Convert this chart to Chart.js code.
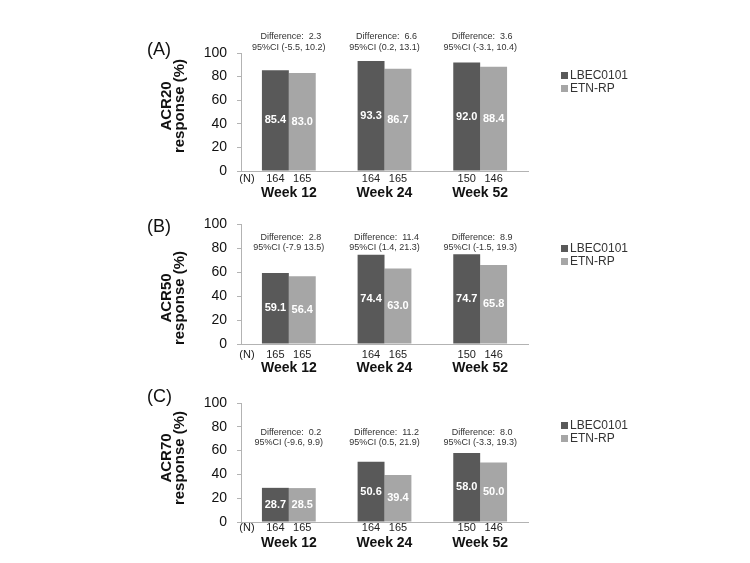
<!DOCTYPE html>
<html>
<head>
<meta charset="utf-8">
<script src="https://cdn.jsdelivr.net/npm/chart.js@4"></script>
<style>
  body { margin: 0; background: #fff; }
  #wrap { position: relative; width: 750px; height: 563px; }
  #wrap canvas { position: absolute; left: 0; top: 0; }
</style>
</head>
<body>
<div id="wrap">
  <canvas id="chartA" width="750" height="563"></canvas>
  <canvas id="chartB" width="750" height="563"></canvas>
  <canvas id="chartC" width="750" height="563"></canvas>
</div>
<script>
const weeks = ["Week 12", "Week 24", "Week 52"];
const seriesNames = ["LBEC0101", "ETN-RP"];

const acr20Lbec = [85.4, 93.3, 92.0];
const acr20Etn = [83.0, 86.7, 88.4];
const acr50Lbec = [59.1, 74.4, 74.7];
const acr50Etn = [56.4, 63.0, 65.8];
const acr70Lbec = [28.7, 50.6, 58.0];
const acr70Etn = [28.5, 39.4, 50.0];

const nLbecA = [164, 164, 150];
const nEtnA = [165, 165, 146];
const nLbecB = [165, 164, 150];
const nEtnB = [165, 165, 146];
const nLbecC = [164, 164, 150];
const nEtnC = [165, 165, 146];

const diffA = ["2.3", "6.6", "3.6"];
const ciA = ["(-5.5, 10.2)", "(0.2, 13.1)", "(-3.1, 10.4)"];
const diffB = ["2.8", "11.4", "8.9"];
const ciB = ["(-7.9 13.5)", "(1.4, 21.3)", "(-1.5, 19.3)"];
const diffC = ["0.2", "11.2", "8.0"];
const ciC = ["(-9.6, 9.9)", "(0.5, 21.9)", "(-3.3, 19.3)"];

const yTicks = [0, 20, 40, 60, 80, 100];

const DARK = "#595959";
const LIGHT = "#a6a6a6";
const FONT = "'Liberation Sans', Arial, sans-serif";

// layout of each panel (pixels on the page)
const panels = [
  { id: "chartA", tag: "(A)", title: "ACR20", lbec: acr20Lbec, etn: acr20Etn, nL: nLbecA, nE: nEtnA, diff: diffA, ci: ciA,
    top: 53, bottom: 171, tagY: 50, titleY: 106, legY: 75, nOff: 8, weekPad: 14, diffY: [37, 48] },
  { id: "chartB", tag: "(B)", title: "ACR50", lbec: acr50Lbec, etn: acr50Etn, nL: nLbecB, nE: nEtnB, diff: diffB, ci: ciB,
    top: 224, bottom: 344, tagY: 227, titleY: 298, legY: 248, nOff: 11, weekPad: 16, diffY: [238, 248] },
  { id: "chartC", tag: "(C)", title: "ACR70", lbec: acr70Lbec, etn: acr70Etn, nL: nLbecC, nE: nEtnC, diff: diffC, ci: ciC,
    top: 403, bottom: 522, tagY: 397, titleY: 458, legY: 425, nOff: 6, weekPad: 13, diffY: [433, 443] },
];

const XAXIS_H = 40;

const extras = {
  id: "extras",
  afterDatasetsDraw(chart, args, opts) {
    const p = opts.panel;
    const ctx = chart.ctx;
    const area = chart.chartArea;
    ctx.save();

    // values inside bars + N under bars
    [0, 1].forEach((di) => {
      const meta = chart.getDatasetMeta(di);
      const nArr = di === 0 ? p.nL : p.nE;
      meta.data.forEach((bar, i) => {
        const v = chart.data.datasets[di].data[i];
        ctx.fillStyle = "#fff";
        ctx.font = "bold 11px " + FONT;
        ctx.textAlign = "center";
        ctx.textBaseline = "middle";
        ctx.fillText(v.toFixed(1), bar.x, (bar.y + bar.base) / 2);

        ctx.fillStyle = "#222";
        ctx.font = "11px " + FONT;
        ctx.fillText(String(nArr[i]), bar.x, area.bottom + p.nOff);
      });
    });
    ctx.fillStyle = "#222";
    ctx.font = "11px " + FONT;
    ctx.textAlign = "center";
    ctx.fillText("(N)", 247, area.bottom + p.nOff);

    // difference annotations
    const xs = chart.scales.x;
    ctx.font = "9px " + FONT;
    ctx.fillStyle = "#333";
    weeks.forEach((w, i) => {
      const cx = xs.getPixelForValue(i);
      ctx.fillText("Difference:  " + p.diff[i], cx + 2, p.diffY[0]);
      ctx.fillText("95%CI " + p.ci[i], cx, p.diffY[1]);
    });

    // panel tag
    ctx.fillStyle = "#111";
    ctx.font = "18px " + FONT;
    ctx.textAlign = "left";
    ctx.fillText(p.tag, 147, p.tagY);

    // y title (two lines, rotated)
    ctx.save();
    ctx.translate(173, p.titleY);
    ctx.rotate(-Math.PI / 2);
    ctx.font = "bold 15px " + FONT;
    ctx.textAlign = "center";
    ctx.fillText(p.title, 0, -6);
    ctx.fillText("response (%)", 0, 7);
    ctx.restore();

    // legend
    ctx.font = "12px " + FONT;
    ctx.textAlign = "left";
    seriesNames.forEach((name, i) => {
      const y = p.legY + i * 13;
      ctx.fillStyle = i === 0 ? DARK : LIGHT;
      ctx.fillRect(561, y - 3, 7, 7);
      ctx.fillStyle = "#333";
      ctx.fillText(name, 570, y + 1);
    });

    ctx.restore();
  },
};

panels.forEach((p) => {
  new Chart(document.getElementById(p.id), {
    type: "bar",
    data: {
      labels: weeks,
      datasets: [
        { label: seriesNames[0], data: p.lbec, backgroundColor: DARK },
        { label: seriesNames[1], data: p.etn, backgroundColor: LIGHT },
      ],
    },
    options: {
      responsive: false,
      animation: false,
      events: [],
      datasets: { bar: { categoryPercentage: 0.5625, barPercentage: 1 } },
      layout: {
        padding: { left: 0, right: 750 - 528, top: p.top, bottom: 563 - p.bottom - XAXIS_H },
      },
      plugins: {
        legend: { display: false },
        tooltip: { enabled: false },
        extras: { panel: p },
      },
      scales: {
        x: {
          grid: { display: false, drawTicks: false },
          border: { color: "#b3b3b3", width: 1 },
          ticks: { color: "#111", font: { family: FONT, size: 14, weight: "bold" }, padding: p.weekPad },
          afterFit: (s) => { s.height = XAXIS_H; },
        },
        y: {
          min: 0,
          max: 100,
          afterBuildTicks: (s) => { s.ticks = yTicks.map((v) => ({ value: v })); },
          grid: { drawOnChartArea: false, drawTicks: true, tickLength: 4, color: "#b3b3b3" },
          border: { color: "#b3b3b3", width: 1 },
          ticks: { color: "#111", font: { family: FONT, size: 14 }, padding: 10 },
          afterFit: (s) => { s.width = 241; },
        },
      },
    },
    plugins: [extras],
  });
});
</script>
</body>
</html>
